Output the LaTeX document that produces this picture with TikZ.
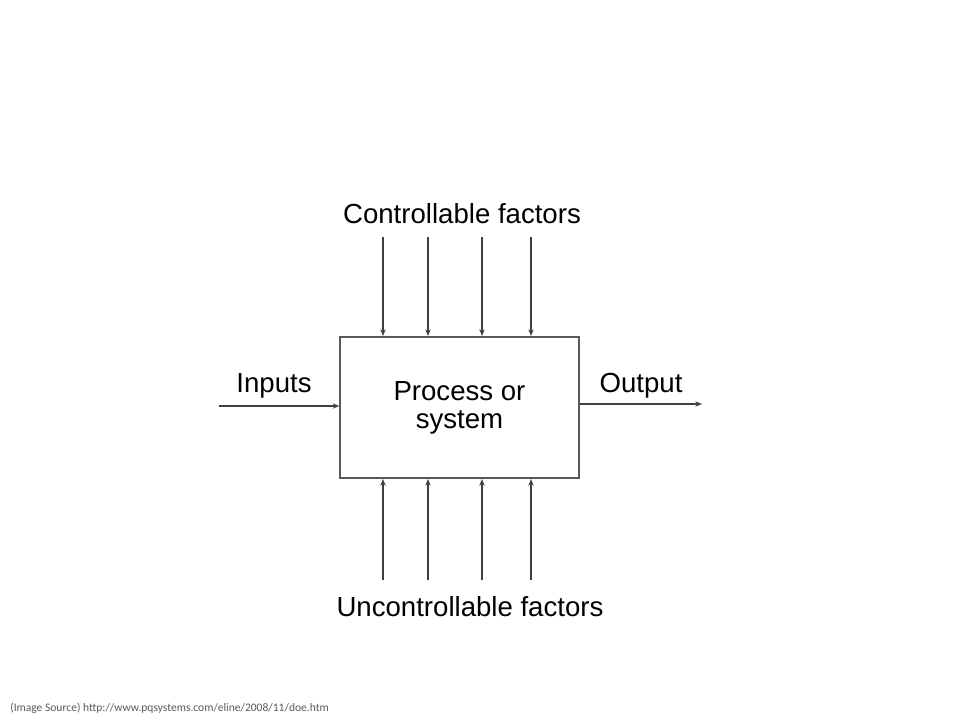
\documentclass[tikz,border=0pt]{standalone}
\usepackage{fontspec}
\setmainfont{Liberation Sans}
\newfontfamily\footfont{Carlito}
\usetikzlibrary{arrows.meta}
\definecolor{linegray}{HTML}{404040}
\definecolor{boxgray}{HTML}{595959}
\definecolor{footgray}{HTML}{595959}
\begin{document}
\begin{tikzpicture}[x=0.75pt,y=-0.75pt,
  lbl/.style={font=\fontsize{20.7pt}{23pt}\selectfont, text=black, inner sep=0pt},
  conn/.style={draw=linegray, line width=0.8pt, -{Stealth[length=5pt,width=4pt]}},
  procbox/.style={draw=boxgray, line width=1.3pt, minimum width=179pt, minimum height=106pt, inner sep=0pt, align=center, font=\fontsize{20.7pt}{21pt}\selectfont}]
\useasboundingbox (0,0) rectangle (960,720);
\node[procbox] (box) at (459.5,407.5) {Process or\\system};
\node[lbl] (ctrl) at (462,214) {Controllable factors};
\node[lbl] (unctrl) at (470,607) {Uncontrollable factors};
\node[lbl] (inputs) at (274,386) {Inputs};
\node[lbl] (output) at (641,386) {Output};
\foreach \i/\x in {1/383,2/428,3/482,4/531} {
  \coordinate (t\i) at (\x,237);
  \coordinate (b\i) at (\x,580);
  \draw[conn] (t\i) -- (t\i |- box.north);
  \draw[conn] (b\i) -- (b\i |- box.south);
}
\coordinate (inL) at (219,406);
\coordinate (outR) at (702,404);
\draw[conn] (inL) -- (inL -| box.west);
\draw[conn] (outR -| box.east) -- (outR);
\node[anchor=west, inner sep=0pt, text=footgray, font=\footfont\fontsize{8.65pt}{10pt}\selectfont] (src) at (10,708) {(Image Source) http://www.pqsystems.com/eline/2008/11/doe.htm};
\end{tikzpicture}
\end{document}
